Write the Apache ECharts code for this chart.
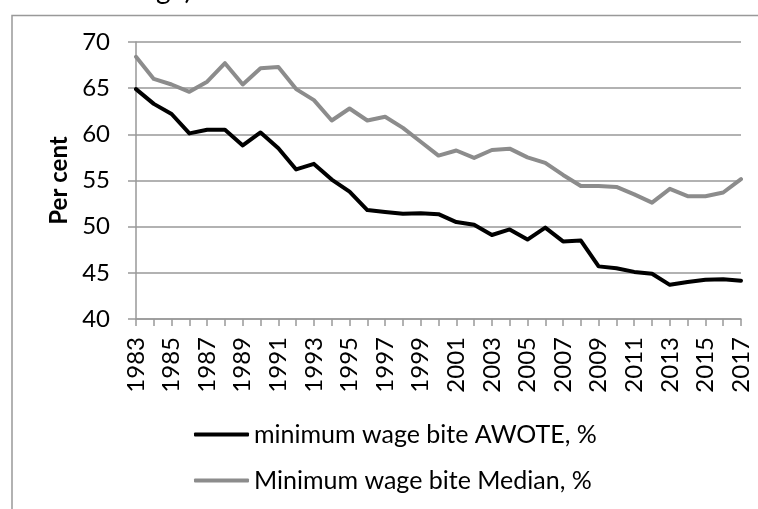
<!DOCTYPE html>
<html>
<head>
<meta charset="utf-8">
<script src="https://cdn.jsdelivr.net/npm/echarts@6/dist/echarts.min.js"></script>
<style>
  html, body { margin: 0; padding: 0; background: #fff; }
  #chart { width: 758px; height: 509px; }
</style>
</head>
<body>
<div id="chart"></div>
<script>
var years = ['1983','1984','1985','1986','1987','1988','1989','1990','1991','1992','1993','1994','1995','1996','1997','1998','1999','2000','2001','2002','2003','2004','2005','2006','2007','2008','2009','2010','2011','2012','2013','2014','2015','2016','2017'];
var awote = [64.9,63.3,62.2,60.1,60.5,60.5,58.8,60.2,58.5,56.2,56.8,55.1,53.8,51.8,51.6,51.4,51.45,51.35,50.5,50.2,49.1,49.7,48.6,49.9,48.4,48.5,45.7,45.5,45.1,44.9,43.7,44.0,44.25,44.3,44.15];
var median = [68.4,66.0,65.4,64.6,65.7,67.7,65.4,67.15,67.3,64.9,63.7,61.5,62.8,61.5,61.9,60.7,59.2,57.7,58.25,57.45,58.3,58.45,57.5,56.9,55.6,54.4,54.4,54.3,53.5,52.6,54.1,53.3,53.3,53.7,55.15];
var seriesNames = ['minimum wage bite AWOTE, %', 'Minimum wage bite Median, %'];
var yTicks = { min: 40, max: 70, step: 5 };
var yName = 'Per cent';
var clippedTitle = 'wage)';

var FONT = 'Lato';
var chart = echarts.init(document.getElementById('chart'), null, { renderer: 'canvas' });
chart.setOption({
  backgroundColor: '#ffffff',
  animation: false,
  textStyle: { fontFamily: FONT, color: '#000' },
  graphic: [
    { type: 'rect', left: 9.5, top: 13, shape: { x: 0, y: 0, width: 800, height: 600 },
      style: { fill: 'none', stroke: '#999', lineWidth: 1.5 }, silent: true, z: -1 },
    { type: 'text', x: 192, y: -10, style: { text: clippedTitle, fontFamily: FONT, fontSize: 28,
      fill: '#000', align: 'right', verticalAlign: 'middle' } }
  ],
  grid: { left: 136, right: 17, top: 42, bottom: 190, containLabel: false },
  legend: {
    orient: 'vertical', left: 189, top: 417,
    icon: 'roundRect', itemWidth: 55, itemHeight: 4, itemGap: 21,
    textStyle: { fontFamily: FONT, fontSize: 25, color: '#000', lineHeight: 25 },
    data: seriesNames
  },
  xAxis: {
    type: 'category', data: years, boundaryGap: false,
    axisLine: { show: true, lineStyle: { color: '#999', width: 1.5 } },
    axisTick: { show: true, interval: 0, length: 7, lineStyle: { color: '#999', width: 1.5 } },
    axisLabel: { interval: 1, rotate: 90, margin: 18, fontFamily: FONT, fontSize: 24, color: '#000' },
    splitLine: { show: false }
  },
  yAxis: {
    type: 'value', min: yTicks.min, max: yTicks.max, interval: yTicks.step,
    name: yName, nameLocation: 'middle', nameGap: 62, nameRotate: 90,
    nameTextStyle: { fontFamily: FONT, fontSize: 24, fontWeight: 'bold', color: '#000' },
    axisLine: { show: true, lineStyle: { color: '#999', width: 1.5 } },
    axisTick: { show: true, length: 8, lineStyle: { color: '#999', width: 1.5 } },
    axisLabel: { margin: 26, fontFamily: FONT, fontSize: 24, color: '#000' },
    splitLine: { show: true, lineStyle: { color: '#999', width: 1.5 } }
  },
  series: [
    { name: seriesNames[0], type: 'line', data: awote, symbol: 'none', color: '#000',
      lineStyle: { color: '#000', width: 4, join: 'round', cap: 'round' }, z: 3 },
    { name: seriesNames[1], type: 'line', data: median, symbol: 'none', color: '#8c8c8c',
      lineStyle: { color: '#8c8c8c', width: 4, join: 'round', cap: 'round' }, z: 2 }
  ]
});
</script>
</body>
</html>
